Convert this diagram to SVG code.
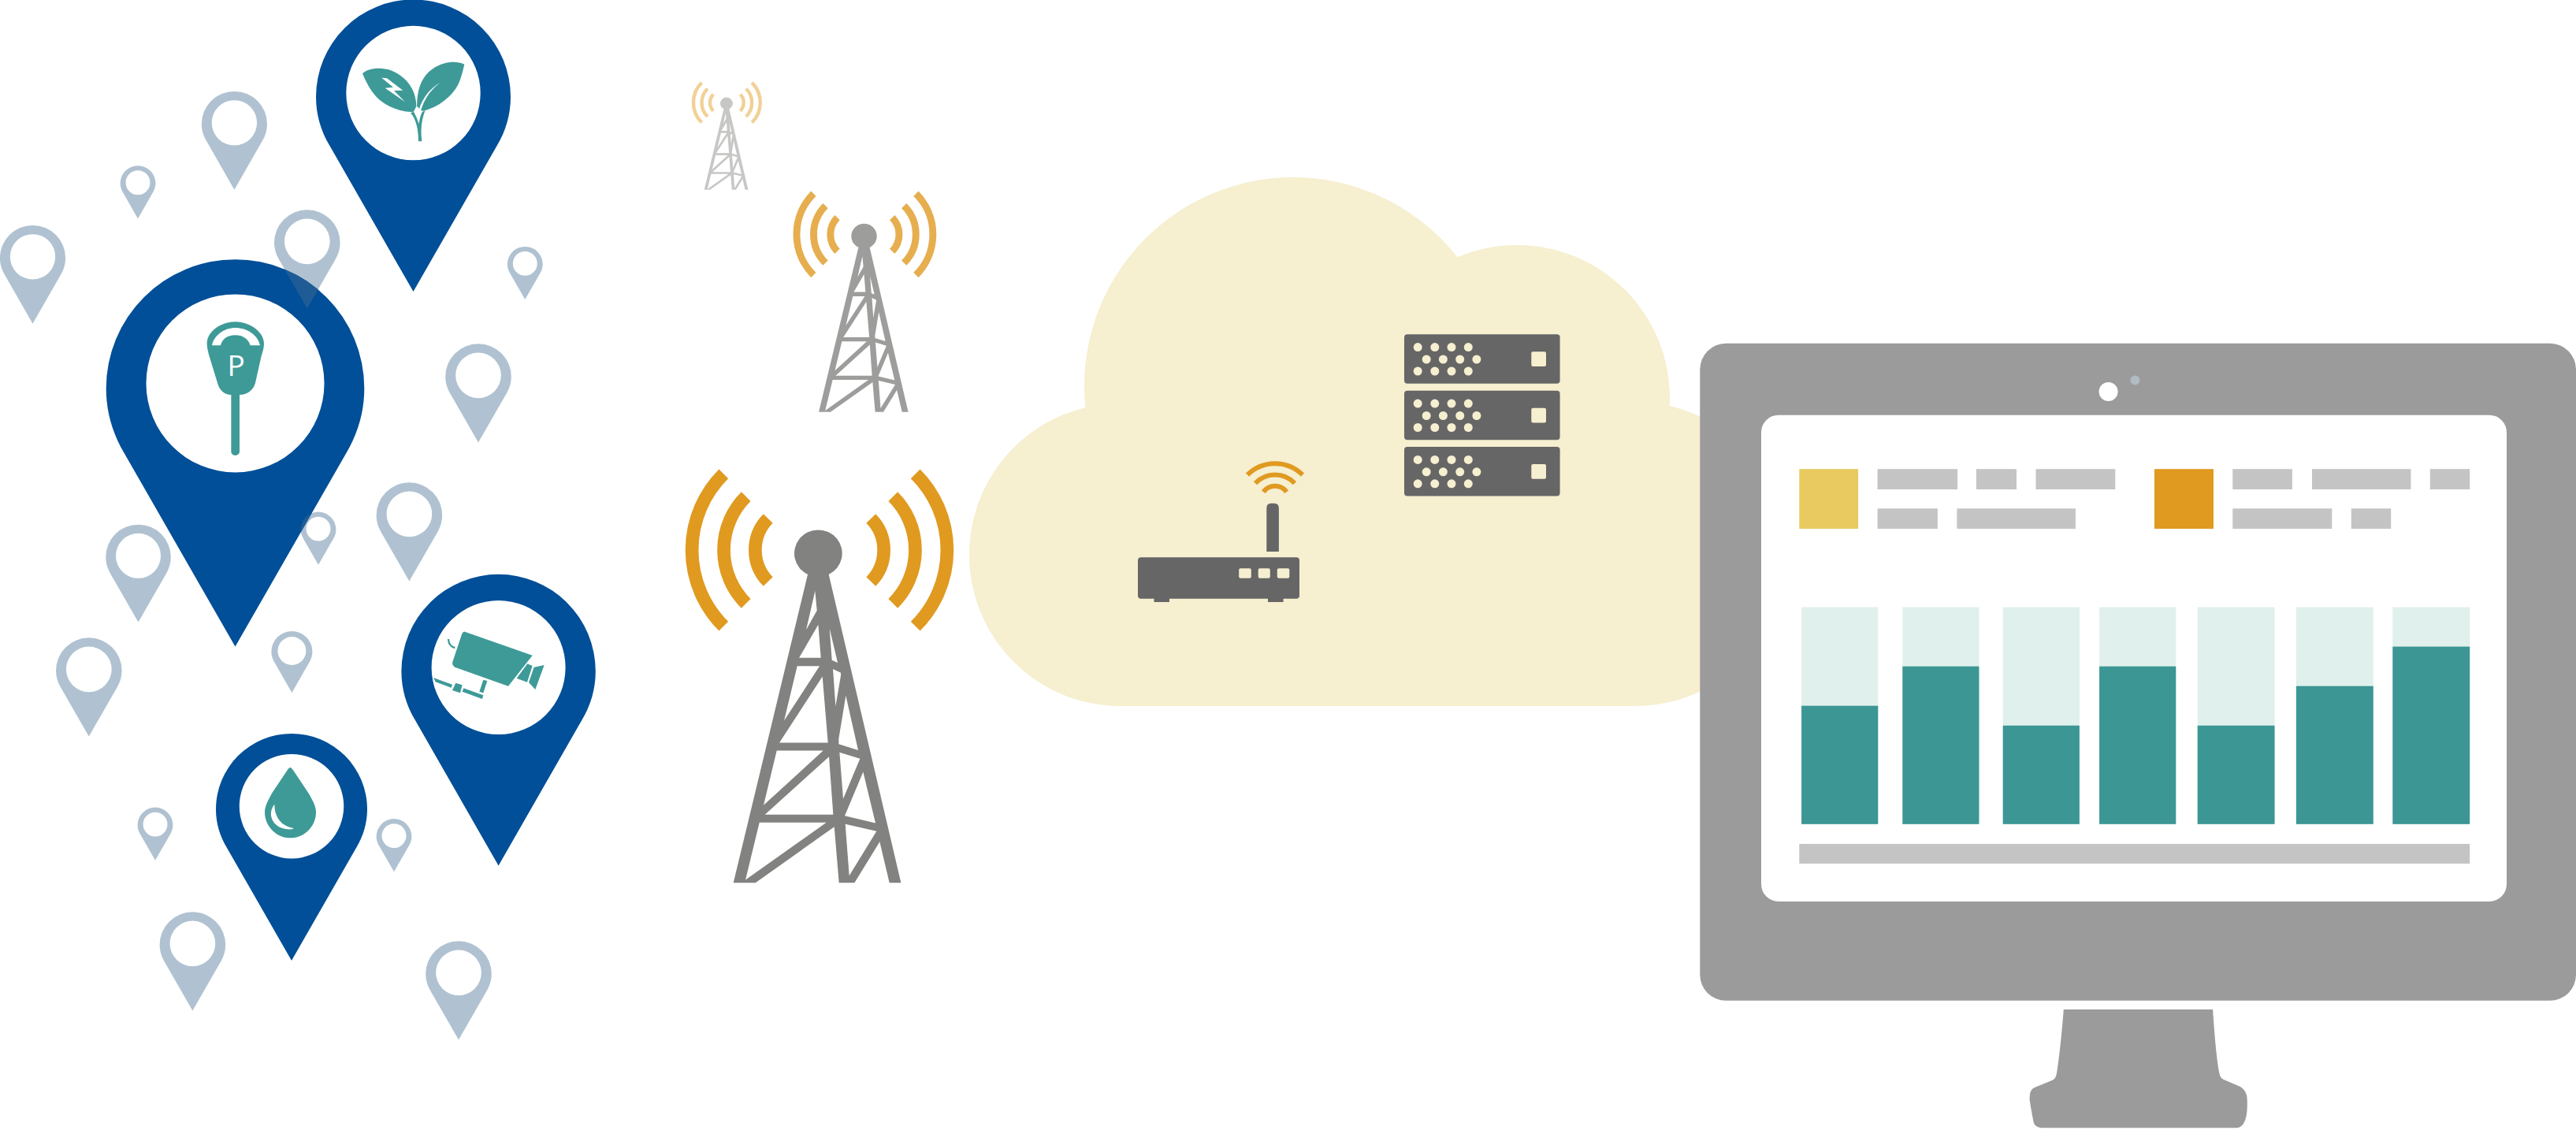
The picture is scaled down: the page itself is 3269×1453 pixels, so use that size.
<svg xmlns="http://www.w3.org/2000/svg" xmlns:xlink="http://www.w3.org/1999/xlink" width="3269" height="1453" viewBox="0 0 3269 1453">
<style>
.pale{fill:#b0c2d1}
.blue{fill:#004f98}
.teal{fill:#3e9a97}
.tealS{fill:none;stroke:#3e9a97}
.wh{fill:#fff}
.cream{fill:#f6efd0}
.dark{fill:#666}
.gr{fill:#c4c4c4}
.mon{fill:#9b9b9b}
.bar{fill:#3b9694}
.barbg{fill:#e0f0ec}
.wifi{fill:none;stroke:#e09a20;stroke-width:6}
</style>
<defs>
<path id="pin" fill-rule="evenodd" clip-rule="evenodd" d="M0,2 L-.86,.5 C-.95,.35 -1,.18 -1,0 A1,1 0 0 1 1,0 C1,.18 .95,.35 .86,.5 Z M0,-.73 A.69,.69 0 1 0 0,.65 A.69,.69 0 1 0 0,-.73 Z"/>
<clipPath id="clip-p2"><use href="#pin" transform="translate(298.5,493) scale(163.8)"/></clipPath>
<path id="tower-body" fill-rule="evenodd" transform="scale(.3333,.3636) translate(-596,-360)" d="M555,437 A91,82 0 1 1 635,437 L910,1513 L866,1513 L829,1370 L733,1513 L674,1513 L656,1318 L356,1513 L272,1513 Z
M583,495 L590,563 L549,630 Z M595,612 L605,728 L522,728 Z M638,625 L669,745 L647,736 Z M515,757 L600,757 L465,947 Z M651,767 L681,780 L681,790 L661,897 Z M611,793 L632,1024 L447,1024 Z M700,860 L747,1050 L673,1029 L673,1010 Z M437,1052 L614,1052 L387,1242 Z M676,1058 L754,1080 L690,1220 Z M636,1073 L652,1275 L392,1275 Z M766,1126 L813,1305 L696,1279 Z M371,1303 L626,1303 L318,1503 Z M698,1308 L817,1333 L713,1488 Z"/>
<g id="tower-waves" fill="none" stroke-width="16.7">
<path d="M-120.4,-99.7 A136.4,136.4 0 0 0 -120.4,93.7"/>
<path d="M-92,-70.8 A95.6,95.6 0 0 0 -92,64.8"/>
<path d="M-64,-43 A57.2,57.2 0 0 0 -64,37"/>
<path d="M123,-99.7 A136.4,136.4 0 0 1 123,93.7"/>
<path d="M94.6,-70.8 A95.6,95.6 0 0 1 94.6,64.8"/>
<path d="M66.6,-43 A57.2,57.2 0 0 1 66.6,37"/>
</g>
</defs>

<g id="cloud" class="cream">
<circle cx="1641" cy="490" r="265"/>
<circle cx="1925" cy="505" r="194"/>
<circle cx="1422" cy="704" r="192"/>
<circle cx="2075" cy="703" r="193"/>
<rect x="1422" y="512" width="653" height="384"/>
</g>

<g id="minor-pins" class="pale">
<use href="#pin" transform="translate(297.4,157.5) scale(41.6)"/>
<use href="#pin" transform="translate(175,232.6) scale(22.4)"/>
<use href="#pin" transform="translate(41.5,327.5) scale(41.6)"/>
<use href="#pin" transform="translate(389.8,308) scale(41.8)"/>
<use href="#pin" transform="translate(666.3,335.3) scale(22.4)"/>
<use href="#pin" transform="translate(607,478) scale(41.8)"/>
<use href="#pin" transform="translate(519.4,654) scale(41.8)"/>
<use href="#pin" transform="translate(404,672) scale(22.4)"/>
<use href="#pin" transform="translate(175.5,707) scale(41.3)"/>
<use href="#pin" transform="translate(370.4,827) scale(26)"/>
<use href="#pin" transform="translate(112.8,851) scale(41.8)"/>
<use href="#pin" transform="translate(197,1047) scale(22.4)"/>
<use href="#pin" transform="translate(500,1061.5) scale(22.4)"/>
<use href="#pin" transform="translate(244.4,1199) scale(41.8)"/>
<use href="#pin" transform="translate(582,1236) scale(41.8)"/>
</g>

<g id="pin-plant">
<use class="blue" href="#pin" transform="translate(524.5,123) scale(123.5)"/>
<g transform="translate(450,70) scale(.3333)">
<path class="teal" d="M30,70 C50,50 90,45 130,55 C190,75 235,125 235,195 L225,215 C190,220 130,200 95,170 C65,145 45,105 30,70 Z"/>
<path class="wh" d="M103,86 L123,88 L184,134 L150,135 L192,178 L116,125 L147,122 Z"/>
<path class="teal" d="M418,35 C385,20 340,25 300,50 C255,80 235,130 238,210 L265,212 C320,195 370,160 395,110 C405,90 412,60 418,35 Z"/>
<path class="wh" d="M325,105 C290,125 260,160 246,205 L240,195 L228,212 L246,240 C255,180 285,135 325,105 Z"/>
<path class="teal" d="M213,220 C235,245 243,285 243,328 L256,328 C252,290 252,255 268,212 L258,215 C250,230 247,245 245,262 C240,245 232,228 225,215 Z"/>
</g>
</g>

<g id="pin-parking">
<use class="blue" href="#pin" transform="translate(298.5,493) scale(163.8)"/>
<g transform="translate(250,400) scale(.3333)">
<path class="teal" d="M146,25 C195,25 255,60 255,108 C255,125 250,140 245,155 L222,258 C215,285 190,303 162,303 L162,520 A16,14 0 0 1 130,520 L130,303 C105,303 85,285 78,258 L45,150 C40,130 38,118 38,108 C38,60 95,25 146,25 Z"/>
<path class="wh" d="M57,115 C65,75 105,48 146,48 C190,48 232,75 240,115 L203,115 C195,90 175,76 146,76 C115,76 95,92 90,115 Z"/>
</g>
<text x="288.5" y="476.7" font-family="'Open Sans','Liberation Sans',sans-serif" font-size="37" class="wh">P</text>
</g>

<g id="pin-overlaps" clip-path="url(#clip-p2)" fill="#1f5c96">
<use href="#pin" transform="translate(389.8,308) scale(41.8)"/>
<use href="#pin" transform="translate(404,672) scale(22.4)"/>
</g>

<g id="pin-camera">
<use class="blue" href="#pin" transform="translate(632.6,852) scale(123.2)"/>
<g transform="translate(540,790) scale(.3333)">
<path class="teal" d="M150,35 L407,125 L315,242 L112,170 Q100,162 103,150 L138,45 Q143,33 150,35 Z"/>
<path class="tealS" stroke-width="7" d="M87,63 C88,80 95,92 112,96"/>
<path class="teal" d="M388,157 L407,165 L387,227 L347,212 Z M413,170 L452,162 L418,255 L393,228 Z M30,210 L102,236 L98,248 L38,226 Z M115,230 L140,238 L132,268 L102,258 Z M145,250 L220,277 L216,291 L140,263 Z M220,218 L235,222 L220,268 L205,263 Z"/>
</g>
</g>

<g id="pin-water">
<use class="blue" href="#pin" transform="translate(370,1027) scale(96)"/>
<g transform="translate(320,960) scale(.3333)">
<path class="teal" d="M145,42 C150,42 155,50 160,58 L215,140 C232,170 243,190 243,212 C243,265 200,310 145,310 C92,310 48,265 48,212 C48,190 60,168 75,140 L130,58 C135,50 140,42 145,42 Z"/>
<path class="wh" d="M85,182 C78,190 70,205 72,225 C76,255 105,280 150,277 Q160,275 155,272 C115,265 85,235 85,182 Z"/>
</g>
</g>

<g id="tower-small">
<use href="#tower-waves" stroke="#f2d096" transform="translate(922,131) scale(.262)"/>
<use href="#tower-body" fill="#c7c7c6" transform="translate(922,131) scale(.262)"/>
</g>
<g id="tower-medium">
<use href="#tower-waves" stroke="#e6ae4e" transform="translate(1096.7,299) scale(.534)"/>
<use href="#tower-body" fill="#9d9d9c" transform="translate(1096.7,299) scale(.534)"/>
</g>
<g id="tower-large">
<use href="#tower-waves" stroke="#e09a20" transform="translate(1038.7,701)"/>
<use href="#tower-body" fill="#828280" transform="translate(1038.7,701)"/>
</g>

<g id="router">
<path class="dark" d="M1607.3,700 L1607.3,645 Q1607.3,638.7 1613,638.7 L1617,638.7 Q1622.9,638.7 1622.9,645 L1622.9,700 Z"/>
<rect class="dark" x="1444" y="707.3" width="205" height="52.4" rx="4"/>
<rect class="dark" x="1464.5" y="755" width="19.5" height="9"/>
<rect class="dark" x="1609" y="755" width="19.6" height="9"/>
<g class="cream">
<rect x="1572.2" y="721.3" width="15.6" height="12.4" rx="2"/>
<rect x="1596.7" y="721.3" width="15.1" height="12.4" rx="2"/>
<rect x="1620.8" y="721.3" width="15.5" height="12.4" rx="2"/>
</g>
<path class="wifi" d="M1583,602.7 A49.7,49.7 0 0 1 1653,602.7"/>
<path class="wifi" d="M1593,613.3 A34.5,34.5 0 0 1 1643,613.3"/>
<path class="wifi" d="M1603.3,624.3 A18,18 0 0 1 1632.7,624.3"/>
</g>

<g id="servers">
<defs>
<g id="server">
<rect class="dark" x="1782" y="424.3" width="197.6" height="62.4" rx="4"/>
<g class="cream">
<circle cx="1799.2" cy="440.6" r="5.5"/><circle cx="1820.8" cy="440.6" r="5.5"/><circle cx="1842" cy="440.6" r="5.5"/><circle cx="1863.3" cy="440.6" r="5.5"/>
<circle cx="1810.2" cy="456" r="5.5"/><circle cx="1831.4" cy="456" r="5.5"/><circle cx="1852.7" cy="456" r="5.5"/><circle cx="1873.9" cy="456" r="5.5"/>
<circle cx="1799.2" cy="471" r="5.5"/><circle cx="1820.8" cy="471" r="5.5"/><circle cx="1842" cy="471" r="5.5"/><circle cx="1863.3" cy="471" r="5.5"/>
<rect x="1943.3" y="446.3" width="18.7" height="18.7" rx="2"/>
</g>
</g>
</defs>
<use href="#server"/>
<use href="#server" y="71.5"/>
<use href="#server" y="142.8"/>
</g>

<g id="monitor">
<path class="mon" d="M2618.8,1281 L2808.1,1281 Q2812,1340 2816,1360 Q2817,1368 2822,1370 L2843,1379 Q2850,1383 2851.5,1392 Q2853,1415 2848,1424 Q2845,1431 2838,1431.2 L2590,1431.2 Q2582,1430 2580.6,1424 Q2577,1405 2575.6,1395 Q2575,1383 2582,1380 L2604,1371 Q2609,1369 2610,1362 Q2615,1330 2618.8,1281 Z"/>
<rect class="mon" x="2157.3" y="435.8" width="1111.7" height="834" rx="33"/>
<rect class="wh" x="2235" y="526.7" width="946" height="617.3" rx="22"/>
<circle class="wh" cx="2675.6" cy="497" r="12"/>
<circle cx="2709.5" cy="482.6" r="6" fill="#b0bcc2"/>
<rect x="2283.3" y="595.2" width="74.8" height="75.8" fill="#e8ca60"/>
<rect x="2734" y="595.2" width="75" height="75.8" fill="#e09a20"/>
<g class="gr">
<rect x="2382.6" y="595.2" width="101.5" height="25.8"/>
<rect x="2507.9" y="595.2" width="51.1" height="25.8"/>
<rect x="2583.5" y="595.2" width="100.8" height="25.8"/>
<rect x="2833.3" y="595.2" width="75.6" height="25.8"/>
<rect x="2934" y="595.2" width="125.4" height="25.8"/>
<rect x="3083.8" y="595.2" width="50.4" height="25.8"/>
<rect x="2382.6" y="645.3" width="76.3" height="25.7"/>
<rect x="2483.4" y="645.3" width="150.5" height="25.7"/>
<rect x="2833.3" y="645.3" width="126" height="25.7"/>
<rect x="2983.8" y="645.3" width="50.4" height="25.7"/>
<rect x="2283.3" y="1070.9" width="850.9" height="25"/>
</g>
<g class="barbg">
<rect x="2286.1" y="770.5" width="97.2" height="125.1"/>
<rect x="2414.3" y="770.5" width="97.2" height="75.1"/>
<rect x="2541.7" y="770.5" width="97.2" height="150.2"/>
<rect x="2664.1" y="770.5" width="97.2" height="75.1"/>
<rect x="2788.7" y="770.5" width="97.9" height="150.2"/>
<rect x="2913.9" y="770.5" width="97.9" height="100.1"/>
<rect x="3036.3" y="770.5" width="97.9" height="50"/>
</g>
<g class="bar">
<rect x="2286.1" y="895.6" width="97.2" height="150.2"/>
<rect x="2414.3" y="845.6" width="97.2" height="200.2"/>
<rect x="2541.7" y="920.7" width="97.2" height="125.1"/>
<rect x="2664.1" y="845.6" width="97.2" height="200.2"/>
<rect x="2788.7" y="920.7" width="97.9" height="125.1"/>
<rect x="2913.9" y="870.6" width="97.9" height="175.2"/>
<rect x="3036.3" y="820.5" width="97.9" height="225.3"/>
</g>
</g>
</svg>
